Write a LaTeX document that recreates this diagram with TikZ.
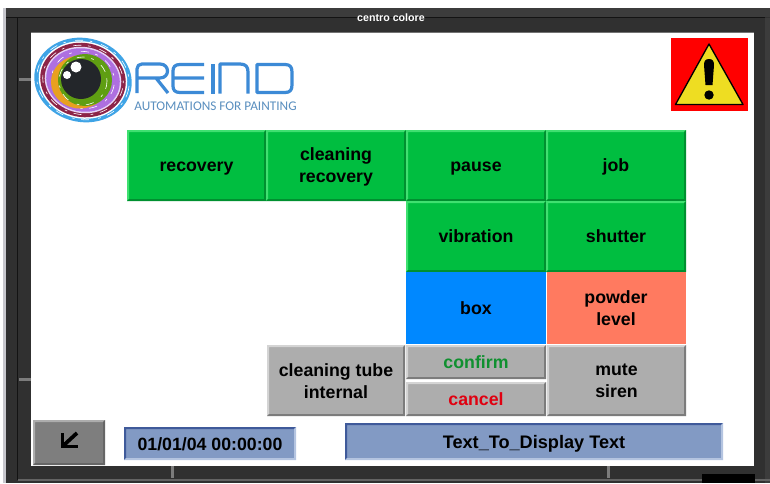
\documentclass[tikz,border=0pt]{standalone}
\usepackage{fontspec}
\setmainfont{Liberation Sans}
\newfontfamily\tagfont{Carlito}
\definecolor{frameD}{HTML}{303030}
\definecolor{frameE}{HTML}{3C3C3C}
\definecolor{gbtn}{HTML}{00BE40}
\definecolor{gbL}{HTML}{3FE070}
\definecolor{gbD}{HTML}{009030}
\definecolor{bluebtn}{HTML}{0088FF}
\definecolor{salmon}{HTML}{FF7A60}
\definecolor{greybtn}{HTML}{ADADAD}
\definecolor{greyL}{HTML}{D4D4D4}
\definecolor{greyD}{HTML}{7C7C7C}
\definecolor{dkbtn}{HTML}{7E7E7E}
\definecolor{fieldb}{HTML}{829AC4}
\definecolor{fieldD}{HTML}{3F5A9A}
\definecolor{fieldL}{HTML}{B4C4E0}
\definecolor{lblue}{HTML}{3C8AD6}
\definecolor{lteal}{HTML}{5A8FBF}
\definecolor{confirmc}{HTML}{109030}
\definecolor{cancelc}{HTML}{E00010}
\definecolor{wyellow}{HTML}{EEDD22}
\definecolor{eyeblue}{HTML}{3FA4E6}
\definecolor{eyemar}{HTML}{8C2448}
\definecolor{eyevio}{HTML}{AE6FE0}
\definecolor{eyeora}{HTML}{E8A020}
\definecolor{eyegrn}{HTML}{5F9E12}
\definecolor{eyepup}{HTML}{23262A}
\tikzset{x=0.75pt,y=-0.75pt,
 lbl/.style={font=\fontsize{13.3}{16.5}\selectfont\bfseries,align=center,inner sep=0pt,text=black,yshift=-1.5pt},
 scratch/.style={white,line width=0.45pt,dash pattern=on 6pt off 5pt on 2pt off 7pt},
 logoline/.style={lblue,line width=2.4pt,line join=round}}
\newcommand{\st}{\rule{0pt}{9.6pt}\rule[-2.9pt]{0pt}{0pt}}
% #1 name #2 x0 #3 y0 #4 x1 #5 y1 #6 fill #7 light #8 dark #9 text
\newcommand{\hmibtn}[9]{%
 \fill[#6] (#2,#3) rectangle (#4,#5);
 \fill[#7] (#2,#3) -- (#4,#3) -- ({#4-2},{#3+2}) -- ({#2+2},{#3+2}) -- ({#2+2},{#5-2}) -- (#2,#5) -- cycle;
 \fill[#8] (#4,#5) -- (#2,#5) -- ({#2+2},{#5-2}) -- ({#4-2},{#5-2}) -- ({#4-2},{#3+2}) -- (#4,#3) -- cycle;
 \node[lbl] (#1) at ({(#2+#4)/2},{(#3+#5)/2}) {#9};}
\begin{document}
\begin{tikzpicture}
\useasboundingbox (0,0) rectangle (770,483);
\fill[white] (0,0) rectangle (770,483);
% frame
\fill[frameD] (3,8) rectangle (770,483);
\fill[frameE] (3,8) rectangle (770,17);
\fill[black!60!frameD] (6,17) rectangle (765,18);
\fill[black!60!frameD] (17,18) rectangle (18,480);
\fill[frameE] (765,18) rectangle (770,483);
\fill[white] (31,32) rectangle (754,466);
\fill[black!55!white] (31,32) rectangle (754,32.8);
\fill[blue!10!black!22!white] (3,8) rectangle (6,483);
\node[font=\fontsize{8}{10}\selectfont\bfseries,text=white,inner sep=0pt] (title) at (391,18) {centro colore};
% frame ticks
\fill[greyD] (19,78) rectangle (31,81);
\fill[greyD] (19,378) rectangle (31,381);
\fill[greyD] (171,466) rectangle (174,478);
\fill[greyD] (607,466) rectangle (610,478);
\fill[greyD!80!black] (18,479) rectangle (770,481);
\fill[black] (702,474) rectangle (755,483);
% logo eye
\begin{scope}[rotate around={-12:(83,80)}]
\fill[eyeblue] (83,80) ellipse (49 and 42);
\draw[scratch] (83,80) ellipse (46.5 and 39.5);
\fill[white] (83,80) ellipse (44.5 and 38.5);
\fill[eyemar] (83,80) ellipse (43 and 37);
\draw[scratch] (83,80) ellipse (40.5 and 34.5);
\fill[white!70!eyevio] (83,80) ellipse (38.5 and 33);
\fill[eyevio] (83,80) ellipse (37 and 31.5);
\draw[scratch] (83,80) ellipse (31.5 and 28.5);
\end{scope}
\fill[eyeora] (80,82) ellipse (29 and 26.5);
\fill[eyegrn] (85,80) ellipse (27 and 26);
\draw[scratch] (83,81) circle (24);
\fill[eyepup] (81,79) circle (20);
\fill[white] (76,67) circle (5.5);
\fill[white] (67,75) circle (4);
% logo text
\draw[logoline] (137,93) -- (137,78) -- (160,78) .. controls (170,78) and (170,64) .. (160,64) -- (142,64) .. controls (139,64) and (137,66) .. (137,69) -- (137,78) (156,78) -- (168,93);
\draw[logoline] (204,64.5) -- (180,64.5) .. controls (175,64.5) and (173,67) .. (173,71) -- (173,86) .. controls (173,90) and (175,92.5) .. (180,92.5) -- (204,92.5) (173,78) -- (204,78);
\draw[logoline] (213,64) -- (213,93.5);
\draw[logoline] (220,93.5) -- (220,64) -- (240,64) .. controls (246,64) and (248,67) .. (248,72) -- (248,93.5);
\draw[logoline] (257,64.5) -- (257,92.5) -- (285,92.5) .. controls (290,92.5) and (292,90) .. (292,85) -- (292,72) .. controls (292,67) and (290,64.5) .. (285,64.5) -- (257,64.5) -- cycle;
\node[font=\fontsize{9.95}{12}\selectfont\tagfont,text=lteal,inner sep=0pt] (tagline) at (215.5,106.5) {AUTOMATIONS FOR PAINTING};
% warning
\fill[red] (671,38) rectangle (748,111);
\fill[wyellow,draw=black,line width=1pt,line join=round] (709,44) -- (743,104.5) -- (675.5,104.5) -- cycle;
\fill[black] (709,59) .. controls (712.5,59) and (714,61) .. (714,65) -- (712.5,85) -- (705.5,85) -- (704,65) .. controls (704,61) and (705.5,59) .. (709,59) -- cycle;
\fill[black] (709,95) circle (4.7);
% buttons
\hmibtn{recovery}{127}{130}{266}{201}{gbtn}{gbL}{gbD}{\st recovery}
\hmibtn{cleanrec}{266}{130}{406}{201}{gbtn}{gbL}{gbD}{\st cleaning\\\st recovery}
\hmibtn{pause}{406}{130}{546}{201}{gbtn}{gbL}{gbD}{\st pause}
\hmibtn{job}{546}{130}{686}{201}{gbtn}{gbL}{gbD}{\st job}
\hmibtn{vibration}{406}{201}{546}{272}{gbtn}{gbL}{gbD}{\st vibration}
\hmibtn{shutter}{546}{201}{686}{272}{gbtn}{gbL}{gbD}{\st shutter}
\fill[bluebtn] (406,272) rectangle (546,344);
\node[lbl] (box) at (476,308) {\st box};
\fill[salmon] (547,272) rectangle (686,344);
\node[lbl] (powder) at (616,308) {\st powder\\\st level};
\hmibtn{tube}{267}{345}{405}{416}{greybtn}{greyL}{greyD}{\st cleaning tube\\\st internal}
\hmibtn{confirm}{406}{345}{546}{379}{greybtn}{greyL}{greyD}{\st\textcolor{confirmc}{confirm}}
\hmibtn{cancel}{406}{382}{546}{416}{greybtn}{greyL}{greyD}{\st\textcolor{cancelc}{cancel}}
\hmibtn{mute}{547}{345}{686}{416}{greybtn}{greyL}{greyD}{\st mute\\\st siren}
% back
\hmibtn{back}{33}{420}{105}{465}{dkbtn}{greybtn}{black!60}{}
\draw[black,line width=2.8pt] (77,433) -- (64,445);
\draw[black,line width=2.8pt,miter limit=6] (62.5,433) -- (62.5,446.5) -- (78,446.5);
% fields
\hmibtn{clock}{124}{427}{296}{460}{fieldb}{fieldD}{fieldL}{\st 01/01/04 00:00:00}
\hmibtn{msg}{345}{423}{723}{460}{fieldb}{fieldD}{fieldL}{\st\fontsize{13.6}{16.5}\selectfont Text\_To\_Display Text}
\end{tikzpicture}
\end{document}
